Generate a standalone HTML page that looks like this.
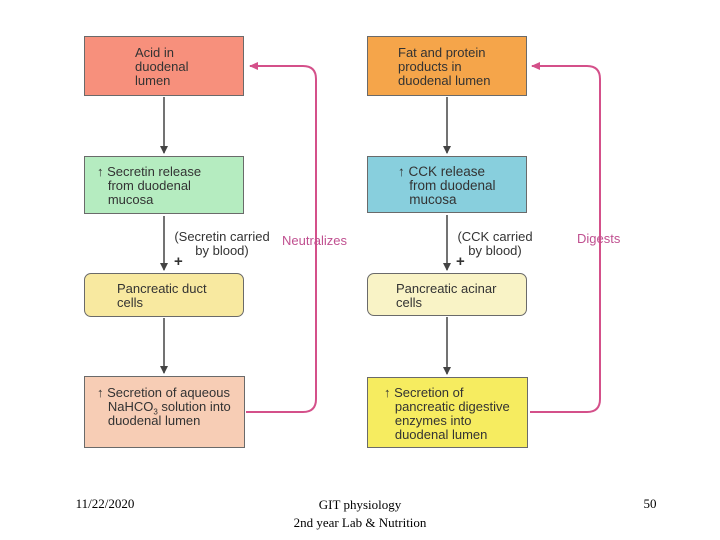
<!DOCTYPE html>
<html><head><meta charset="utf-8"><style>
body{margin:0;width:720px;height:540px;background:#fff;position:relative;overflow:hidden;font-family:"Liberation Sans",sans-serif}
.b{position:absolute;box-sizing:border-box;border:1.5px solid #6a6a6a;font-size:13px;line-height:14px;color:#333;padding-left:24px}
.r{border-radius:7px}
.t{position:absolute;font-size:13px;line-height:14px;color:#333}
.f{position:absolute;font-family:"Liberation Serif",serif;font-size:13px;color:#000;text-align:center}
</style></head><body>
<svg width="720" height="540" style="position:absolute;left:0;top:0">
<defs><marker id="a" markerWidth="8" markerHeight="8" refX="7" refY="4" orient="auto" markerUnits="userSpaceOnUse"><path d="M0,0L8,4L0,8z" fill="#444"/></marker>
<marker id="p" markerWidth="9" markerHeight="8" refX="8" refY="4" orient="auto" markerUnits="userSpaceOnUse"><path d="M0,0L9,4L0,8z" fill="#d4508a"/></marker></defs>
<g stroke="#444" stroke-width="1.5" fill="none" marker-end="url(#a)">
<line x1="164" y1="97" x2="164" y2="153"/><line x1="164" y1="216" x2="164" y2="270"/><line x1="164" y1="318" x2="164" y2="373"/>
<line x1="447" y1="97" x2="447" y2="153"/><line x1="447" y1="215" x2="447" y2="270"/><line x1="447" y1="317" x2="447" y2="374"/>
</g>
<g stroke="#d4508a" stroke-width="2" fill="none" marker-end="url(#p)">
<path d="M246,412 H303 Q316,412 316,399 V79 Q316,66 303,66 H250"/>
<path d="M530,412 H587 Q600,412 600,399 V79 Q600,66 587,66 H532"/>
</g>
</svg>
<div class="b" style="left:84px;top:36px;width:160px;height:60px;background:#f7907c;padding:9px 0 0 50px">Acid in<br>duodenal<br>lumen</div>
<div class="b" style="left:84px;top:156px;width:160px;height:58px;background:#b5ecc0;padding:8px 0 0 12px">↑ Secretin release<br>&nbsp;&nbsp;&nbsp;from duodenal<br>&nbsp;&nbsp;&nbsp;mucosa</div>
<div class="b r" style="left:84px;top:273px;width:160px;height:44px;background:#f8e9a0;padding:8px 0 0 32px">Pancreatic duct<br>cells</div>
<div class="b" style="left:84px;top:376px;width:161px;height:72px;background:#f7cdb5;padding:9px 0 0 12px">↑ Secretion of aqueous<br>&nbsp;&nbsp;&nbsp;NaHCO<sub style="font-size:8px;line-height:0">3</sub> solution into<br>&nbsp;&nbsp;&nbsp;duodenal lumen</div>
<div class="t" style="left:168px;top:230px;text-align:center;width:108px">(Secretin carried<br>by blood)</div>
<div class="t" style="left:174px;top:255px;font-weight:bold;font-size:15px">+</div>
<div class="t" style="left:282px;top:234px;color:#c05090">Neutralizes</div>

<div class="b" style="left:367px;top:36px;width:160px;height:60px;background:#f5a54a;padding:9px 0 0 30px">Fat and protein<br>products in<br>duodenal lumen</div>
<div class="b" style="left:367px;top:156px;width:160px;height:57px;background:#88cfdd;padding:8px 0 0 30px;font-size:13.5px">↑ CCK release<br>&nbsp;&nbsp;&nbsp;from duodenal<br>&nbsp;&nbsp;&nbsp;mucosa</div>
<div class="b r" style="left:367px;top:273px;width:160px;height:43px;background:#f9f3c6;padding:8px 0 0 28px">Pancreatic acinar<br>cells</div>
<div class="b" style="left:367px;top:377px;width:161px;height:71px;background:#f6ec60;padding:8px 0 0 16px">↑ Secretion of<br>&nbsp;&nbsp;&nbsp;pancreatic digestive<br>&nbsp;&nbsp;&nbsp;enzymes into<br>&nbsp;&nbsp;&nbsp;duodenal lumen</div>
<div class="t" style="left:450px;top:230px;text-align:center;width:90px">(CCK carried<br>by blood)</div>
<div class="t" style="left:456px;top:255px;font-weight:bold;font-size:15px">+</div>
<div class="t" style="left:577px;top:232px;color:#c05090">Digests</div>

<div class="f" style="left:40px;top:496px;width:130px">11/22/2020</div>
<div class="f" style="left:260px;top:496px;width:200px;line-height:18px">GIT physiology<br>2nd year Lab &amp; Nutrition</div>
<div class="f" style="left:630px;top:496px;width:40px">50</div>
</body></html>
